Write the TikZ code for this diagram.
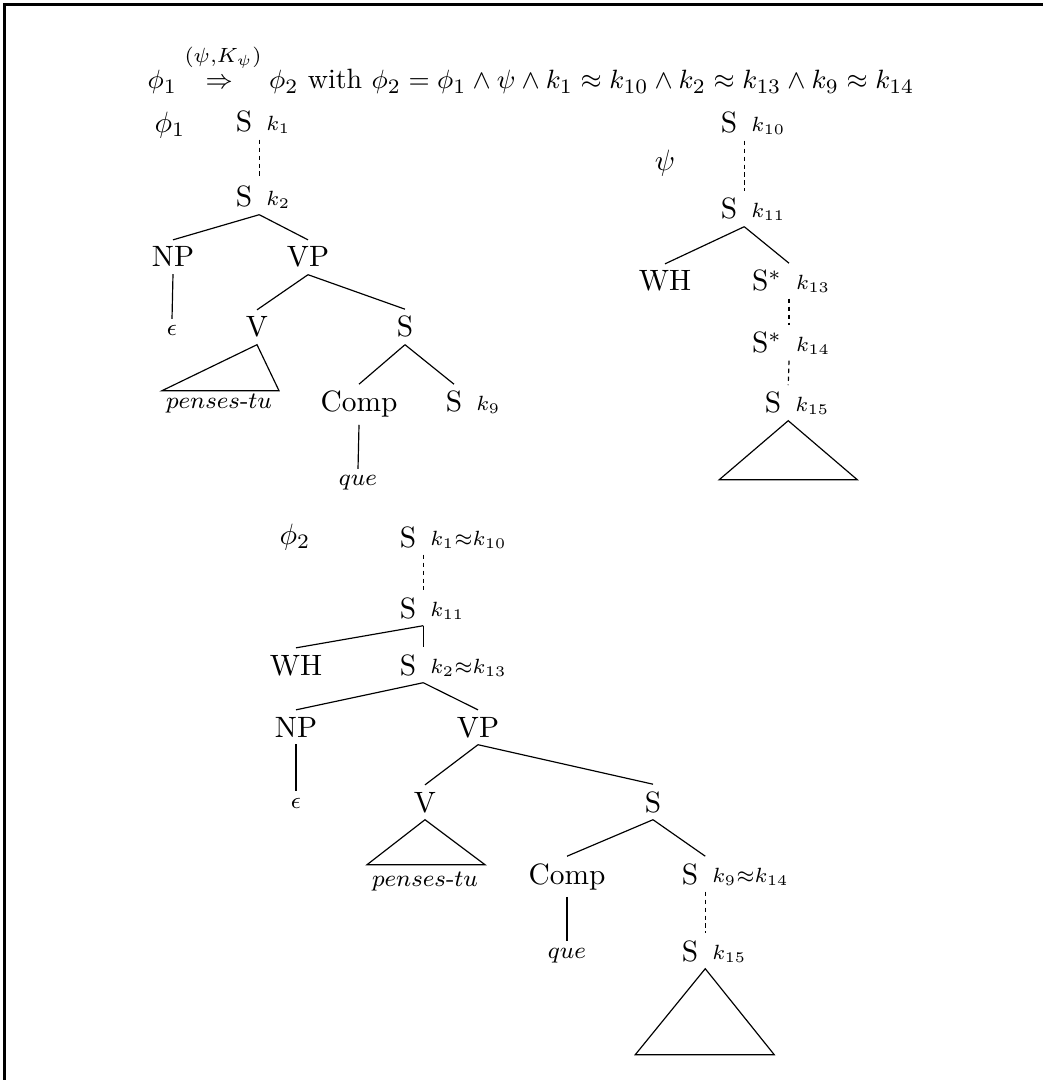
\documentclass[tikz,border=0pt]{standalone}
\usepackage{amsmath,amssymb}
\usetikzlibrary{positioning}

\begin{document}
\begin{tikzpicture}[x=0.34pt,y=-0.34pt,
  tn/.style={anchor=base,inner sep=2.2pt},
  ann/.style={inner sep=2.2pt,yshift=2pt},
  leaf/.style={anchor=base,inner sep=2.2pt,font=\footnotesize},
  dline/.style={dash pattern=on 1.5pt off 1.2pt}]
\useasboundingbox (0,0) rectangle (1043,1080);
\draw[line width=1pt] (4.5,1080) |- (1043,4.5);

\node[anchor=base,font=\fontsize{9.5pt}{12pt}\selectfont] (title) at (531,89) {$\phi_1 \stackrel{(\psi,K_\psi)}{\Rightarrow\rule{0pt}{5.8pt}} \phi_2$ with $\phi_2=\phi_1\wedge\psi\wedge k_1\approx k_{10}\wedge k_2\approx k_{13}\wedge k_9\approx k_{14}$};

% phi_1
\node (phi1) at (170,125) {$\phi_1$};
\node[tn] (fS1) at (244,132) {S};
\node[ann,base right=0pt of fS1] (fS1k) {$_{k_1}$};
\node[tn] (fS2) at (244,207) {S};
\node[ann,base right=0pt of fS2] (fS2k) {$_{k_2}$};
\node[tn] (fNP) at (173,267) {NP};
\node[tn] (fVP) at (308,267) {VP};
\node[leaf] (fEps) at (172,336) {$\epsilon$};
\node[tn] (fV) at (257,337) {V};
\node[tn] (fS3) at (405,337) {S};
\node[leaf] (fPen) at (219,409) {$penses$-$tu$};
\node[tn] (fComp) at (359,412) {Comp};
\node[tn] (fS4) at (454,412) {S};
\node[ann,base right=0pt of fS4] (fS4k) {$_{k_9}$};
\node[leaf] (fQue) at (358,486) {$que$};

\draw[dline] (fS1.south east) -- (fS2.north east);
\draw (fS2.south east) -- (fNP.north);
\draw (fS2.south east) -- (fVP.north);
\draw (fNP.south) -- (fEps.north);
\draw (fVP.south) -- (fV.north);
\draw (fVP.south) -- (fS3.north);
\draw (fV.south) -- ++(-95,46) -- ++(117,0) -- cycle;
\draw (fS3.south) -- (fComp.north);
\draw (fS3.south) -- (fS4.north);
\draw (fComp.south) -- (fQue.north);

% psi
\node (psi) at (665,163) {$\psi$};
\node[tn] (pS1) at (729,133) {S};
\node[ann,base right=0pt of pS1] (pS1k) {$_{k_{10}}$};
\node[tn] (pS2) at (729,219) {S};
\node[ann,base right=0pt of pS2] (pS2k) {$_{k_{11}}$};
\node[tn] (pWH) at (665,291) {WH};
\node[tn] (pSt1) at (767,291) {S$^*$};
\node[ann,base right=0pt of pSt1] (pSt1k) {$_{k_{13}}$};
\node[tn] (pSt2) at (767,353) {S$^*$};
\node[ann,base right=0pt of pSt2] (pSt2k) {$_{k_{14}}$};
\node[tn] (pS3) at (773,413) {S};
\node[ann,base right=0pt of pS3] (pS3k) {$_{k_{15}}$};

\draw[dline] (pS1.south east) -- (pS2.north east);
\draw (pS2.south east) -- (pWH.north);
\draw (pS2.south east) -- (pSt1.north east);
\draw[dline] (pSt1.south east) -- (pSt2.north east);
\draw[dline] (pSt2.south east) -- (pS3.north east);
\draw (pS3.south east) -- ++(-69,59) -- ++(138,0) -- cycle;

% phi_2
\node (phi2) at (295,537) {$\phi_2$};
\node[tn] (gS1) at (408,547) {S};
\node[ann,base right=0pt of gS1] (gS1k) {$_{k_1\approx k_{10}}$};
\node[tn] (gS2) at (408,618) {S};
\node[ann,base right=0pt of gS2] (gS2k) {$_{k_{11}}$};
\node[tn] (gWH) at (296,675) {WH};
\node[tn] (gS3) at (408,675) {S};
\node[ann,base right=0pt of gS3] (gS3k) {$_{k_2\approx k_{13}}$};
\node[tn] (gNP) at (296,737) {NP};
\node[tn] (gVP) at (478,737) {VP};
\node[leaf] (gEps) at (296,808) {$\epsilon$};
\node[tn] (gV) at (425,812) {V};
\node[tn] (gS4) at (653,812) {S};
\node[leaf] (gPen) at (425,886) {$penses$-$tu$};
\node[tn] (gComp) at (567,884) {Comp};
\node[tn] (gS5) at (690,884) {S};
\node[ann,base right=0pt of gS5] (gS5k) {$_{k_9\approx k_{14}}$};
\node[leaf] (gQue) at (567,958) {$que$};
\node[tn] (gS6) at (690,961) {S};
\node[ann,base right=0pt of gS6] (gS6k) {$_{k_{15}}$};

\draw[dline] (gS1.south east) -- (gS2.north east);
\draw (gS2.south east) -- (gWH.north);
\draw (gS2.south east) -- (gS3.north east);
\draw (gS3.south east) -- (gNP.north);
\draw (gS3.south east) -- (gVP.north);
\draw (gNP.south) -- (gEps.north);
\draw (gVP.south) -- (gV.north);
\draw (gVP.south) -- (gS4.north);
\draw (gV.south) -- ++(-58,45) -- ++(118,0) -- cycle;
\draw (gS4.south) -- (gComp.north);
\draw (gS4.south) -- (gS5.north east);
\draw (gComp.south) -- (gQue.north);
\draw[dline] (gS5.south east) -- (gS6.north east);
\draw (gS6.south east) -- ++(-70,86) -- ++(139,0) -- cycle;
\end{tikzpicture}
\end{document}
